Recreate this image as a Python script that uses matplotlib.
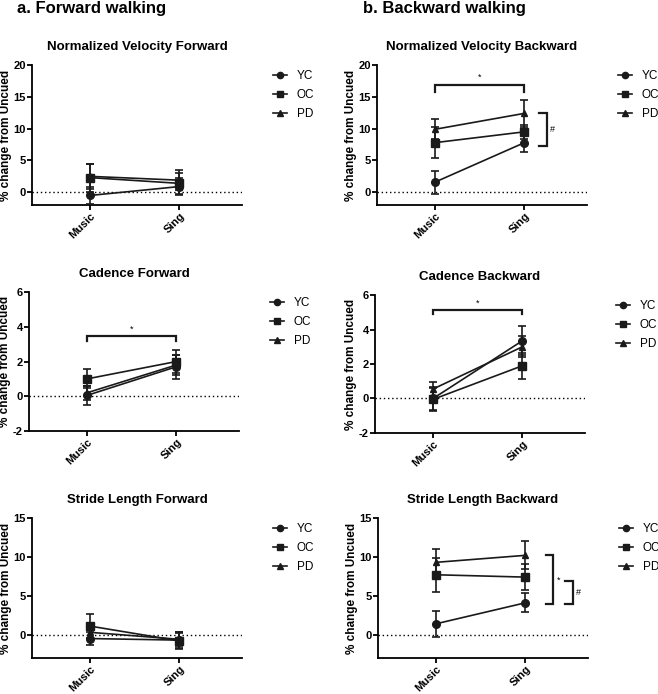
import matplotlib
matplotlib.use("Agg")
import matplotlib.pyplot as plt
from matplotlib.lines import Line2D
import numpy as np

plt.rcParams['font.family'] = ['Liberation Sans', 'DejaVu Sans']
plt.rcParams['axes.unicode_minus'] = False

conditions = ["Music", "Sing"]
groups = ["YC", "OC", "PD"]
markers = {"YC": "o", "OC": "s", "PD": "^"}

# Normalized velocity forward
vel_fwd_yc = [-0.5, 0.9]
vel_fwd_oc = [2.3, 1.4]
vel_fwd_pd = [2.5, 1.9]
vel_fwd_yc_err = [1.3, 1.4]
vel_fwd_oc_err = [2.2, 1.6]
vel_fwd_pd_err = [2.0, 1.6]

# Normalized velocity backward
vel_bwd_yc = [1.6, 7.8]
vel_bwd_oc = [7.8, 9.5]
vel_bwd_pd = [9.9, 12.4]
vel_bwd_yc_err = [1.8, 1.5]
vel_bwd_oc_err = [2.4, 1.1]
vel_bwd_pd_err = [1.6, 2.1]

# Cadence forward
cad_fwd_yc = [0.05, 1.7]
cad_fwd_oc = [1.0, 2.0]
cad_fwd_pd = [0.2, 1.8]
cad_fwd_yc_err = [0.55, 0.7]
cad_fwd_oc_err = [0.55, 0.65]
cad_fwd_pd_err = [0.4, 0.6]

# Cadence backward
cad_bwd_yc = [0.0, 3.35]
cad_bwd_oc = [-0.05, 1.9]
cad_bwd_pd = [0.55, 3.0]
cad_bwd_yc_err = [0.65, 0.85]
cad_bwd_oc_err = [0.65, 0.75]
cad_bwd_pd_err = [0.4, 0.6]

# Stride length forward
str_fwd_yc = [-0.5, -0.7]
str_fwd_oc = [1.1, -0.8]
str_fwd_pd = [0.3, -0.6]
str_fwd_yc_err = [0.8, 1.0]
str_fwd_oc_err = [1.5, 1.0]
str_fwd_pd_err = [0.9, 0.9]

# Stride length backward
str_bwd_yc = [1.4, 4.1]
str_bwd_oc = [7.7, 7.4]
str_bwd_pd = [9.3, 10.2]
str_bwd_yc_err = [1.65, 1.2]
str_bwd_oc_err = [2.2, 1.7]
str_bwd_pd_err = [1.7, 1.8]

panels = [
    dict(title="Normalized Velocity Forward", ylim=(-2, 20), yticks=[0, 5, 10, 15, 20],
         vals=[vel_fwd_yc, vel_fwd_oc, vel_fwd_pd], errs=[vel_fwd_yc_err, vel_fwd_oc_err, vel_fwd_pd_err]),
    dict(title="Normalized Velocity Backward", ylim=(-2, 20), yticks=[0, 5, 10, 15, 20],
         vals=[vel_bwd_yc, vel_bwd_oc, vel_bwd_pd], errs=[vel_bwd_yc_err, vel_bwd_oc_err, vel_bwd_pd_err]),
    dict(title="Cadence Forward", ylim=(-2, 6), yticks=[-2, 0, 2, 4, 6],
         vals=[cad_fwd_yc, cad_fwd_oc, cad_fwd_pd], errs=[cad_fwd_yc_err, cad_fwd_oc_err, cad_fwd_pd_err]),
    dict(title="Cadence Backward", ylim=(-2, 6), yticks=[-2, 0, 2, 4, 6],
         vals=[cad_bwd_yc, cad_bwd_oc, cad_bwd_pd], errs=[cad_bwd_yc_err, cad_bwd_oc_err, cad_bwd_pd_err]),
    dict(title="Stride Length Forward", ylim=(-3, 15), yticks=[0, 5, 10, 15],
         vals=[str_fwd_yc, str_fwd_oc, str_fwd_pd], errs=[str_fwd_yc_err, str_fwd_oc_err, str_fwd_pd_err]),
    dict(title="Stride Length Backward", ylim=(-3, 15), yticks=[0, 5, 10, 15],
         vals=[str_bwd_yc, str_bwd_oc, str_bwd_pd], errs=[str_bwd_yc_err, str_bwd_oc_err, str_bwd_pd_err]),
]

W, H = 658, 694
fig = plt.figure(figsize=(W / 100, H / 100), dpi=100)

# axes boxes in pixels: left, top, right, bottom
boxes = [
    (32, 65, 242, 205), (377, 65, 587, 205),
    (29, 292, 239, 431), (375, 295, 585, 433),
    (32, 518, 242, 658), (378, 518, 588, 658),
]

INK = '#1a1a1a'
axes = []
x = np.arange(len(conditions))
for p, (l, t, r, b) in zip(panels, boxes):
    ax = fig.add_axes([l / W, 1 - b / H, (r - l) / W, (b - t) / H])
    axes.append(ax)
    ax.axhline(0, color='black', ls=(0, (1, 2)), lw=1.0, zorder=1)
    handles = []
    for g, v, e in zip(groups, p["vals"], p["errs"]):
        ms = 5.5 if g != "PD" else 5
        ax.errorbar(x, v, yerr=e, color=INK, marker=markers[g], ms=ms,
                    lw=1.2, elinewidth=1.2, capsize=3, capthick=1.2, zorder=3)
        handles.append(Line2D([], [], color=INK, marker=markers[g], ms=4.5, lw=1.2, label=g))
    ax.set_xlim(-0.65, 1.7)
    ax.set_ylim(*p["ylim"])
    ax.set_yticks(p["yticks"])
    ax.set_xticks(x)
    ax.set_xticklabels(conditions, rotation=45, ha='right', rotation_mode='anchor',
                       fontsize=8, fontweight='bold')
    for lab in ax.get_yticklabels():
        lab.set_fontweight('bold')
        lab.set_fontsize(8)
    ax.spines['top'].set_visible(False)
    ax.spines['right'].set_visible(False)
    ax.spines['left'].set_linewidth(1.3)
    ax.spines['bottom'].set_linewidth(1.3)
    ax.tick_params(width=1.3, length=3.5, pad=1)
    ax.set_ylabel("% change from Uncued", fontsize=8.5, fontweight='bold', labelpad=1)
    ax.set_title(p["title"], fontsize=9.5, fontweight='bold', pad=11)
    ax.legend(handles=handles, loc='upper left', bbox_to_anchor=(1.148, 0.965), frameon=False,
              fontsize=8.5, handlelength=1.2, labelspacing=0.6, handletextpad=0.8,
              borderpad=0, borderaxespad=0)

fig.text(17 / W, 1 - 8 / H, "a. Forward walking", fontsize=12, fontweight='bold', va='center')
fig.text(363 / W, 1 - 8 / H, "b. Backward walking", fontsize=12, fontweight='bold', va='center')

def hbracket(ax, x0, x1, y, drop, label):
    ax.plot([x0, x0, x1, x1], [y - drop, y, y, y - drop], color=INK, lw=1.6,
            clip_on=False, solid_joinstyle='miter')
    ax.text((x0 + x1) / 2, y + drop * 0.5, label, ha='center', va='bottom', fontsize=6.5)

def vbracket(ax, xr, width, y0, y1, label):
    ax.plot([xr - width, xr, xr, xr - width], [y0, y0, y1, y1], color=INK, lw=1.6,
            clip_on=False, solid_joinstyle='miter')
    ax.text(xr + 0.04, (y0 + y1) / 2, label, ha='left', va='center', fontsize=6.5)

hbracket(axes[1], 0, 1, 16.8, 1.1, "*")
vbracket(axes[1], 1.25, 0.09, 12.5, 7.2, "#")
hbracket(axes[2], 0, 1, 3.45, 0.28, "*")
hbracket(axes[3], 0, 1, 5.15, 0.28, "*")
vbracket(axes[5], 1.31, 0.08, 10.2, 3.9, "*")
vbracket(axes[5], 1.53, 0.09, 6.9, 3.9, "#")

fig.savefig("out.png", dpi=100)
